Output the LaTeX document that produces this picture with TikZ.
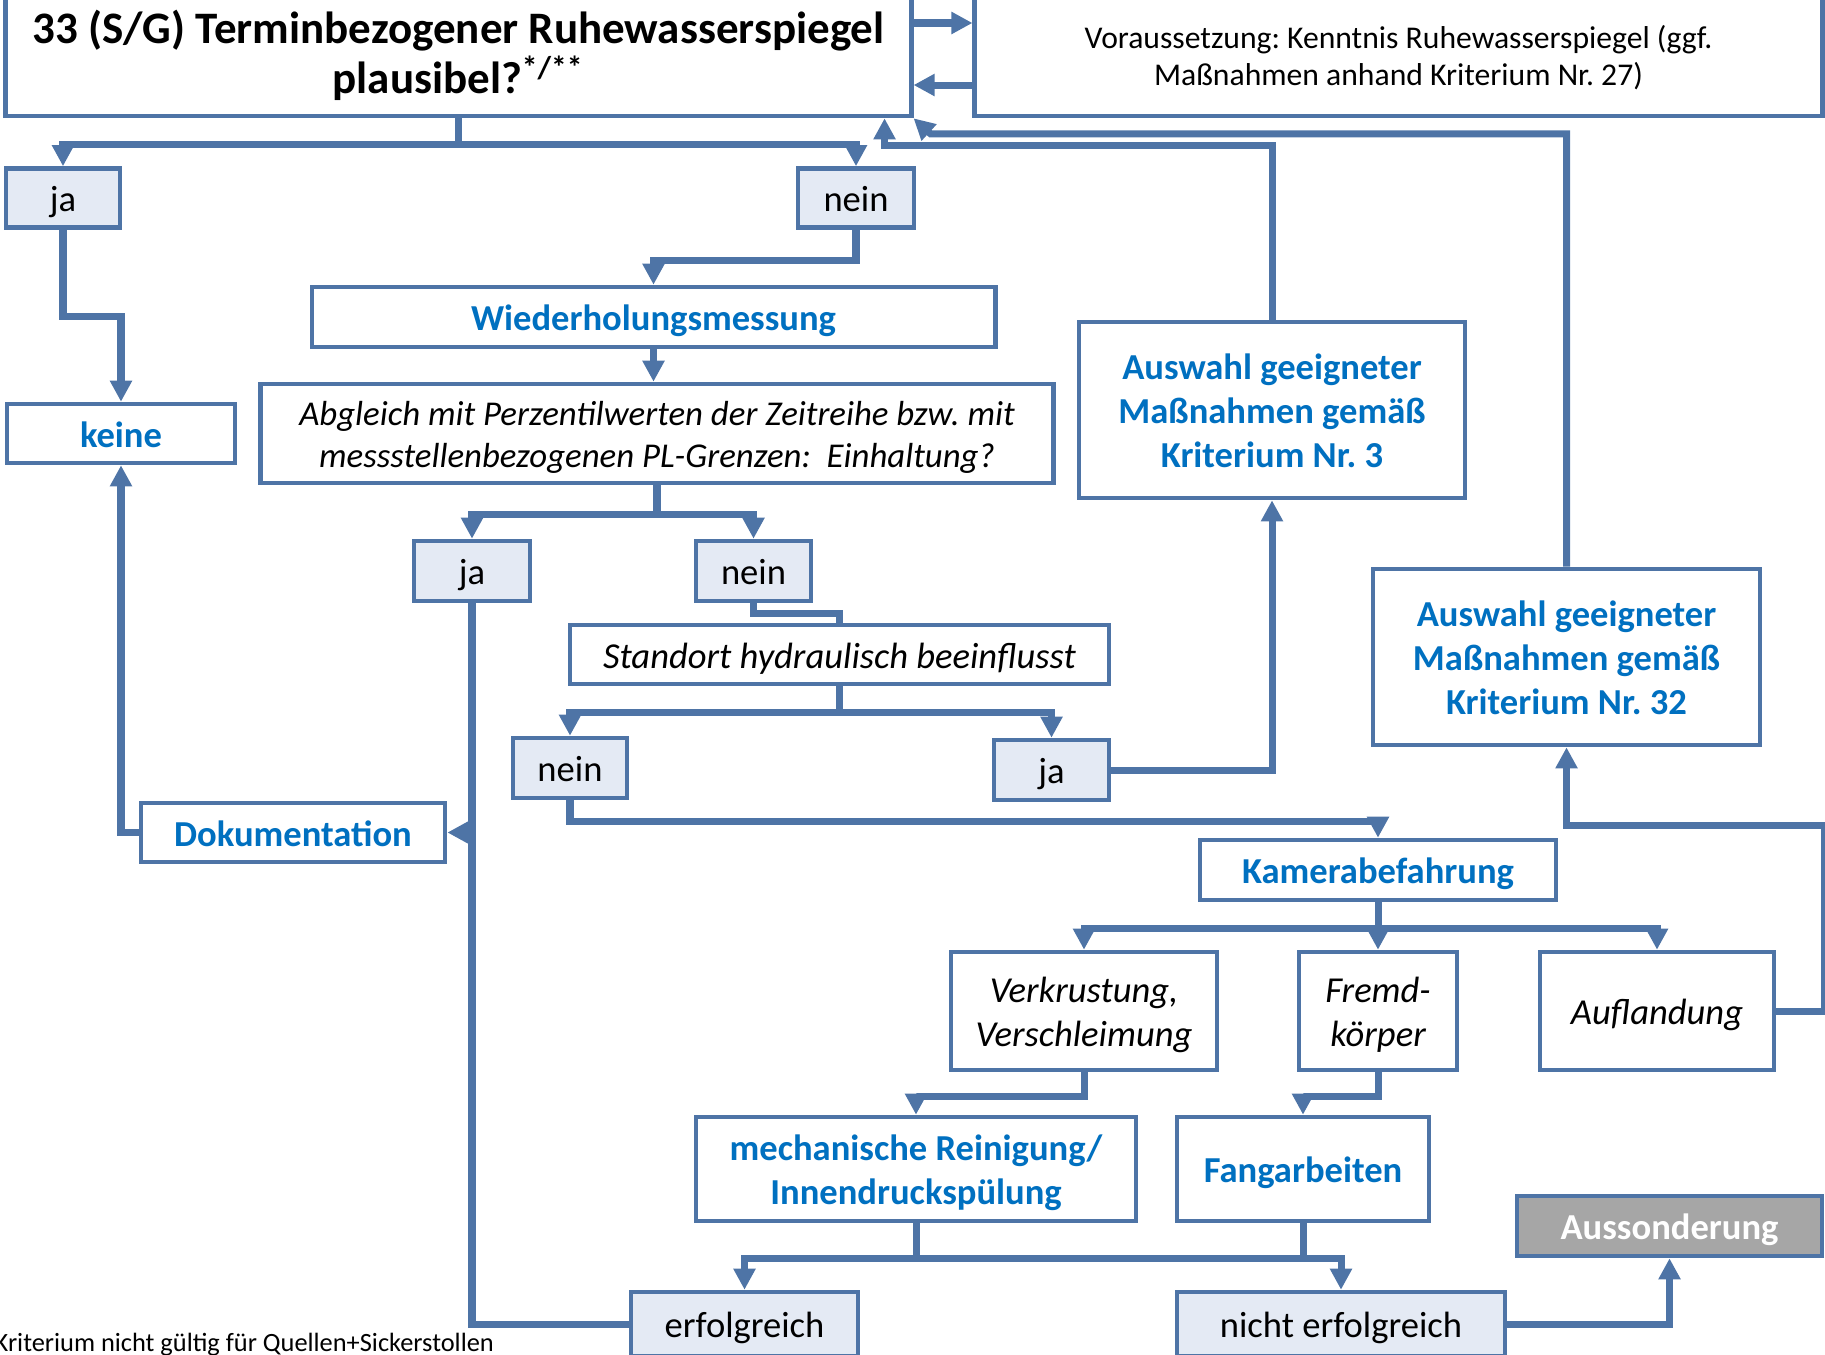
\documentclass[tikz,border=0pt]{standalone}
\usepackage{fontspec}
\setmainfont{Carlito}
\usepackage{tikz}
\usetikzlibrary{arrows.meta,positioning,calc}
\definecolor{flowLine}{HTML}{4E74A6}
\definecolor{flowAns}{HTML}{E4EAF4}
\definecolor{flowAct}{HTML}{0070C0}
\definecolor{flowOut}{HTML}{A6A6A6}
\newcommand{\fnorm}{\fontsize{10.4}{12.5}\selectfont}
\newcommand{\ftitle}{\fontsize{12.8}{14.4}\selectfont\bfseries}
\newcommand{\fnote}{\fontsize{9}{10.5}\selectfont}
\newcommand{\ffoot}{\fontsize{7.5}{9}\selectfont}
% fixed first-line height and last-line depth for multi-line boxes
\newcommand{\topln}{\rule{0pt}{0.75em}}
\newcommand{\lastln}[1]{\raisebox{0pt}[\height][0pt]{#1}}

\begin{document}
\frenchspacing
\begin{tikzpicture}[
    x=0.01cm, y=-0.01cm,
    box/.style={draw=flowLine, line width=1.3pt, fill=white, align=center, inner sep=0pt, font=\fnorm},
    single/.style={text height=7.8pt, text depth=0pt},
    ans/.style={box, single, fill=flowAns},
    act/.style={box, font=\fnorm\bfseries, text=flowAct},
    ask/.style={box, font=\fnorm\itshape},
    conn/.style={draw=flowLine, line width=2pt},
    arr/.style={conn, -{Triangle[length=6pt, width=6pt]}},
]
\useasboundingbox (0,0) rectangle (1825,1354);

% ===== TOP: question and precondition =====
\node[box, font=\ftitle, minimum width=9.05cm, minimum height=1.21cm] (title) at (458.5, 55.5)
    {33 (S/G) Terminbezogener Ruhewasserspiegel\\plausibel?\textsuperscript{*/**}};
\node[box, font=\fnote, minimum width=8.47cm, minimum height=1.21cm] (vor) at (1398.5, 55.5)
    {\topln Voraussetzung: Kenntnis Ruhewasserspiegel (ggf.\\\lastln{Maßnahmen anhand Kriterium Nr. 27)}};

\draw[arr] ([yshift=0.325cm]title.east) -- ([yshift=0.325cm]vor.west);
\draw[arr] ([yshift=-0.295cm]vor.west) -- ([yshift=-0.295cm]title.east);

% first answer
\node[ans, minimum width=1.14cm, minimum height=0.59cm] (ja1) at (63, 198) {ja};
\node[ans, minimum width=1.16cm, minimum height=0.59cm] (nein1) at (856, 198) {nein};

\draw[conn] (title.south) -- ++(0,26) coordinate (t1);
\draw[arr] (t1) -| (ja1.north);
\draw[arr] (t1) -| (nein1.north);

% ===== LEFT: no action =====
\node[act, single, minimum width=2.28cm, minimum height=0.59cm] (keine) at (121, 433.5) {keine};
\draw[arr] (ja1.south) -- ++(0,86.5) -| (keine.north);

% ===== MIDDLE: repeat measurement =====
\node[act, single, minimum width=6.83cm, minimum height=0.6cm] (wied) at (653.5, 317) {Wiederholungsmessung};
\node[ask, font=\fontsize{9.9}{11.9}\selectfont\itshape, minimum width=7.92cm, minimum height=0.99cm] (abgl) at (657, 433.5)
    {\topln Abgleich mit Perzentilwerten der Zeitreihe bzw. mit\\\lastln{messstellenbezogenen PL-Grenzen:\ \ Einhaltung?}};

\draw[arr] (nein1.south) -- ++(0,30.5) -| (wied.north);
\draw[arr] (wied.south) -- (wied.south |- abgl.north);

\node[ans, minimum width=1.16cm, minimum height=0.6cm] (ja2) at (472, 571) {ja};
\node[ans, minimum width=1.15cm, minimum height=0.6cm] (nein2) at (753.5, 571) {nein};

\draw[conn] (abgl.south) -- ++(0,29) coordinate (a1);
\draw[arr] (a1) -| (ja2.north);
\draw[arr] (a1) -| (nein2.north);

\node[ask, single, minimum width=5.39cm, minimum height=0.59cm] (stand) at (839.5, 654.5) {Standort hydraulisch beeinflusst};
\draw[conn] (nein2.south) -- ++(0,10) -| (stand.north);

\node[ans, minimum width=1.14cm, minimum height=0.6cm] (nein3) at (570, 768) {nein};
\node[ans, minimum width=1.15cm, minimum height=0.6cm] (ja3) at (1051.5, 770) {ja};

\draw[conn] (stand.south) -- ++(0,26) coordinate (s1);
\draw[arr] (s1) -| (nein3.north);
\draw[arr] (s1) -| (ja3.north);

% ===== RIGHT: measures =====
\node[act, minimum width=3.86cm, minimum height=1.76cm] (ausw3) at (1272, 410)
    {\topln Auswahl geeigneter\\Maßnahmen gemäß\\\lastln{Kriterium Nr. 3}};
\node[act, minimum width=3.87cm, minimum height=1.76cm] (ausw32) at (1566.5, 657)
    {\topln Auswahl geeigneter\\Maßnahmen gemäß\\\lastln{Kriterium Nr. 32}};

\draw[arr] (ja3.east) -| (ausw3.south);
\draw[arr] (ausw3.north) |- ([xshift=-0.29cm, yshift=-0.27cm]title.south east) -- ([xshift=-0.29cm]title.south east);
\draw[arr] (ausw32.north) |- ([xshift=0.17cm, yshift=-0.155cm]title.south east) -- (title.south east);

% documentation
\node[act, single, minimum width=3.04cm, minimum height=0.59cm] (dok) at (293, 832.5) {Dokumentation};
\draw[arr] (dok.west) -| (keine.south);

% ===== LOWER RIGHT: camera inspection =====
\node[act, single, minimum width=3.56cm, minimum height=0.6cm] (kam) at (1378, 870) {Kamerabefahrung};
\draw[arr] (nein3.south) -- ++(0,21) -| (kam.north);

\node[ask, minimum width=2.66cm, minimum height=1.18cm] (verk) at (1084, 1011) {\topln Verkrustung,\\\lastln{Verschleimung}};
\node[ask, minimum width=1.58cm, minimum height=1.18cm] (fremd) at (1378, 1011) {\topln Fremd-\\\lastln{körper}};
\node[ask, single, minimum width=2.34cm, minimum height=1.18cm] (aufl) at (1657, 1011) {Auflandung};

\draw[conn] (kam.south) -- ++(0,26) coordinate (k1);
\draw[arr] (k1) -| (verk.north);
\draw[arr] (k1) -- (fremd.north);
\draw[arr] (k1) -| (aufl.north);

\draw[arr] (aufl.east) -- ++(48,0) |- ([yshift=-0.78cm]ausw32.south) -- (ausw32.south);

\node[act, minimum width=4.40cm, minimum height=1.04cm] (mech) at (916, 1169) {\topln mechanische Reinigung/\\\lastln{Innendruckspülung}};
\node[act, single, minimum width=2.52cm, minimum height=1.04cm] (fang) at (1303, 1169) {Fangarbeiten};

\draw[arr] (verk.south) -- ++(0,24) -| (mech.north);
\draw[arr] (fremd.south) -- ++(0,24) -| (fang.north);

% results
\node[ans, minimum width=2.27cm, minimum height=0.64cm] (erf) at (744.5, 1324) {erfolgreich};
\node[ans, minimum width=3.28cm, minimum height=0.64cm] (nerf) at (1341, 1324) {nicht erfolgreich};
\node[box, single, fill=flowOut, text=white, font=\fnorm\bfseries, minimum width=3.05cm, minimum height=0.6cm] (auss) at (1669.5, 1226) {Aussonderung};

\draw[conn] (mech.south) -- ++(0,35) coordinate (m1);
\draw[conn] (fang.south) -- (fang.south |- m1);
\draw[arr] (m1) -| (erf.north);
\draw[arr] (m1) -| (nerf.north);

\draw[arr] (nerf.east) -| (auss.south);

% back to documentation
\coordinate (d1) at (ja2.south |- dok.east);
\draw[conn] (ja2.south) -- (d1);
\draw[arr] (erf.west) -| (d1) -- (dok.east);

% footnote
\node[font=\ffoot, anchor=base west, inner sep=0pt] (fn) at (-6, 1351) {Kriterium nicht gültig für Quellen+Sickerstollen};

\end{tikzpicture}
\end{document}
